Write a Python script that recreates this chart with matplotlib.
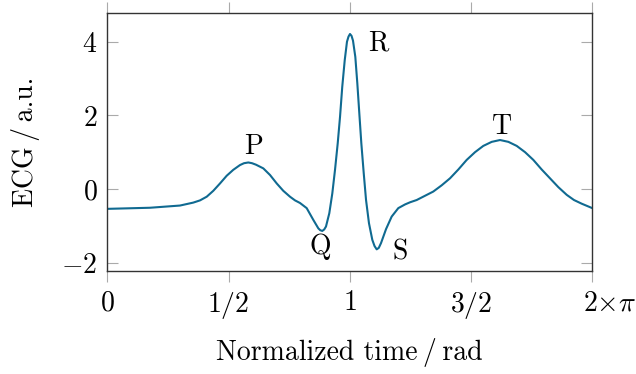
import numpy as np
import matplotlib
matplotlib.use("Agg")
import matplotlib.pyplot as plt
from matplotlib.transforms import ScaledTranslation

plt.rcParams["font.family"] = ["cmr10", "DejaVu Serif"]
plt.rcParams["mathtext.fontset"] = "cm"
plt.rcParams["axes.formatter.use_mathtext"] = True

# one heart beat, phase in rad and amplitude in a.u.
phase = [
    0.000, 0.553, 0.942, 1.114, 1.201, 1.288, 1.373, 1.460, 1.547, 1.632,
    1.719, 1.771, 1.827, 1.875, 1.926, 2.021, 2.108, 2.195, 2.280, 2.367,
    2.432, 2.496, 2.583, 2.669, 2.734, 2.759, 2.785, 2.810, 2.833, 2.876,
    2.915, 2.950, 2.985, 3.015, 3.044, 3.076, 3.105, 3.125, 3.144, 3.164,
    3.183, 3.213, 3.239, 3.265, 3.291, 3.322, 3.352, 3.390, 3.433, 3.462,
    3.490, 3.517, 3.546, 3.611, 3.684, 3.770, 3.857, 3.924, 4.008, 4.223,
    4.332, 4.440, 4.548, 4.656, 4.764, 4.871, 4.980, 5.088, 5.196, 5.304,
    5.412, 5.519, 5.627, 5.735, 5.843, 5.952, 6.046, 6.146, 6.283,
]
ecg = [
    -0.54, -0.51, -0.45, -0.37, -0.31, -0.21, -0.05, 0.15, 0.36, 0.52,
    0.65, 0.70, 0.72, 0.70, 0.66, 0.56, 0.38, 0.15, -0.05, -0.21,
    -0.31, -0.38, -0.52, -0.84, -1.07, -1.12, -1.14, -1.10, -1.02, -0.66,
    -0.12, 0.52, 1.24, 1.96, 2.78, 3.50, 4.00, 4.14, 4.21, 4.16,
    4.03, 3.59, 2.87, 2.05, 1.24, 0.43, -0.30, -0.93, -1.38, -1.55,
    -1.64, -1.60, -1.47, -1.09, -0.75, -0.52, -0.42, -0.36, -0.30, -0.07,
    0.10, 0.29, 0.53, 0.79, 1.00, 1.17, 1.28, 1.33, 1.28, 1.17,
    1.00, 0.79, 0.53, 0.29, 0.05, -0.16, -0.30, -0.40, -0.52,
]

# wave labels and where they sit
wave_names = ["P", "Q", "R", "S", "T"]
wave_x = [1.89, 2.755, 3.51, 3.80, 5.11]
wave_y = [1.15, -1.57, 3.95, -1.73, 1.69]

xticks = [0, np.pi / 2, np.pi, 3 * np.pi / 2, 2 * np.pi]
xtick_labels = ["$0$", "$1/2$", "$1$", "$3/2$", r"$2{\times}\pi$"]
yticks = [-2, 0, 2, 4]
ytick_labels = ["$-2$", "$0$", "$2$", "$4$"]

line_color = "#106a91"
fs = 20

fig = plt.figure(figsize=(6.36, 3.74), dpi=100)
ax = fig.add_axes([0.1687, 0.2762, 0.7626, 0.6890])

ax.plot(phase, ecg, color=line_color, lw=1.5, solid_joinstyle="round")

for name, x, y in zip(wave_names, wave_x, wave_y):
    ax.text(x, y, name, fontsize=fs, ha="center", va="center")

ax.set_xlim(0, 2 * np.pi)
ax.set_ylim(-2.22, 4.78)
ax.set_xticks(xticks)
ax.set_xticklabels(xtick_labels, fontsize=fs)
ax.set_yticks(yticks)
ax.set_yticklabels(ytick_labels, fontsize=fs)

ax.tick_params(axis="x", direction="out", length=8, width=0.8, color="#aaaaaa",
               top=True, pad=6)
ax.tick_params(axis="y", direction="in", length=8, width=0.8, color="#aaaaaa",
               right=True, pad=7)
for s in ax.spines.values():
    s.set_color("#333333")
    s.set_linewidth(1.0)

# the last label hangs off to the right of its tick
last = ax.get_xticklabels()[-1]
last.set_transform(last.get_transform() + ScaledTranslation(0.17, 0, fig.dpi_scale_trans))

ax.set_xlabel("Normalized time\u2009/\u2009rad", fontsize=fs)
ax.set_ylabel("ECG\u2009/\u2009a.u.", fontsize=fs)
ax.xaxis.label.set_va("center")
ax.yaxis.label.set_va("center")
ax.xaxis.set_label_coords(0.5, -0.3155)
ax.yaxis.set_label_coords(-0.168, 0.5)

fig.savefig("out.png", dpi=100, facecolor="white")
